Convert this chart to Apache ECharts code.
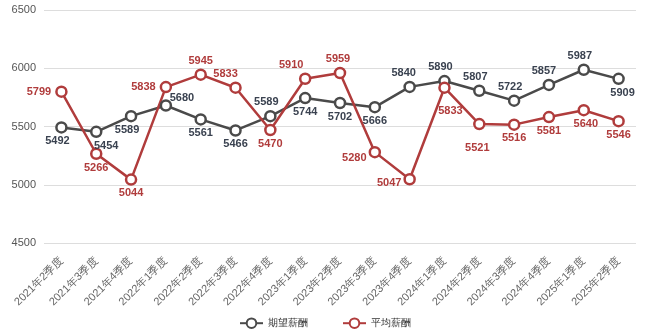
<!DOCTYPE html>
<html><head><meta charset="utf-8">
<script src="https://cdn.jsdelivr.net/npm/echarts@6/dist/echarts.min.js"></script>
<style>html,body{margin:0;padding:0;background:#fff}#c{width:650px;height:335px}</style>
</head><body><div id="c"></div>
<script>
const categories = ['2021年2季度','2021年3季度','2021年4季度','2022年1季度','2022年2季度','2022年3季度','2022年4季度','2023年1季度','2023年2季度','2023年3季度','2023年4季度','2024年1季度','2024年2季度','2024年3季度','2024年4季度','2025年1季度','2025年2季度'];
const expected = [5492,5454,5589,5680,5561,5466,5589,5744,5702,5666,5840,5890,5807,5722,5857,5987,5909];
const average = [5799,5266,5044,5838,5945,5833,5470,5910,5959,5280,5047,5833,5521,5516,5581,5640,5546];
const expPos = ['bottom','bottom','bottom','top','bottom','bottom','top','bottom','bottom','bottom','top','top','top','top','top','top','bottom'];
const expOff = [[-4,0],[10,0],[-4,0],[16,6],[0,0],[0,0],[-4,0],[0,0],[0,0],[0,0],[-6,0],[-4,0],[-4,0],[-4,0],[-5,0],[-4,0],[4,0]];
const avgPos = ['left','bottom','bottom','left','top','top','bottom','top','top','left','left','bottom','bottom','bottom','bottom','bottom','bottom'];
const avgOff = [[-2,0],[0,0],[0,0],[-2,0],[0,0],[-10,0],[0,0],[-14,0],[-2,0],[0,6],[0,4],[6,10],[-2,10],[0,0],[0,0],[2,0],[0,0]];
const gray = '#4a4a4a', red = '#b03c3c';
const chart = echarts.init(document.getElementById('c'));
function mk(vals, pos, off){
  return vals.map((v,i)=>({value:v,label:{position:pos[i],offset:off[i]}}));
}
chart.setOption({
  animation:false,
  grid:{left:44,right:14,top:10,bottom:92},
  legend:{bottom:1,left:'center',itemWidth:23,itemHeight:12,itemGap:34,textStyle:{fontSize:10,color:'#333'},
    data:['期望薪酬','平均薪酬']},
  xAxis:{type:'category',data:categories,boundaryGap:true,
    axisLine:{show:false},axisTick:{show:false},
    axisLabel:{rotate:45,fontSize:11,color:'#666',interval:0,margin:16}},
  yAxis:{type:'value',min:4500,max:6500,interval:500,
    axisLine:{show:false},axisTick:{show:false},
    axisLabel:{fontSize:11,color:'#555',margin:8,formatter:v=>String(v)},
    splitLine:{lineStyle:{color:'#ddd'}}},
  series:[
    {name:'期望薪酬',type:'line',data:mk(expected,expPos,expOff),color:gray,
     symbol:'circle',symbolSize:10,lineStyle:{width:2.5,color:gray},
     itemStyle:{color:'#fff',borderColor:gray,borderWidth:2.5},
     label:{show:true,fontSize:11,fontWeight:'bold',color:'#3a4250',distance:2}},
    {name:'平均薪酬',type:'line',data:mk(average,avgPos,avgOff),color:red,
     symbol:'circle',symbolSize:10,lineStyle:{width:2.5,color:red},
     itemStyle:{color:'#fff',borderColor:red,borderWidth:2.5},
     label:{show:true,fontSize:11,fontWeight:'bold',color:red,distance:2}}
  ]
});
</script></body></html>
